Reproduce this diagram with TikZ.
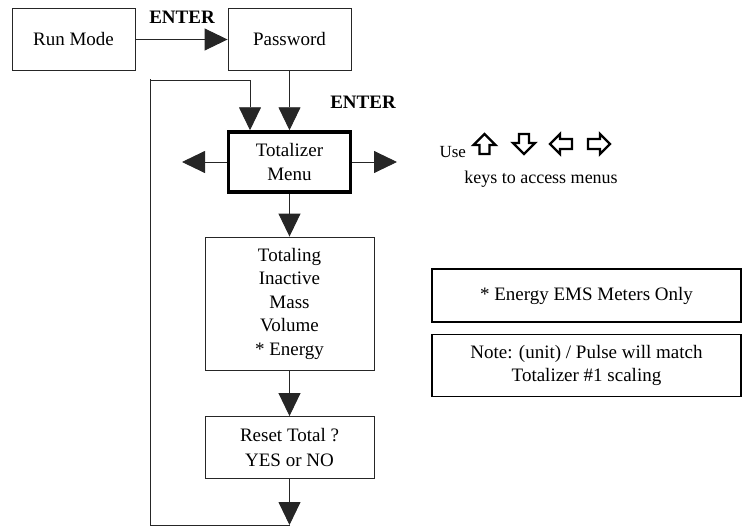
\documentclass[tikz,border=0pt]{standalone}
\usepackage{fontspec}
\setmainfont{Liberation Serif}
\usetikzlibrary{arrows.meta}
\begin{document}
\begin{tikzpicture}[x=1pt,y=-1pt,
  every node/.style={font=\fontsize{19}{23.5}\selectfont},
  box/.style={draw=black!85, line width=0.9pt, rectangle, align=center, inner sep=0pt},
  thickbox/.style={draw=black, line width=3.5pt, rectangle, align=center, inner sep=0pt},
  notebox/.style={draw=black, line width=1.8pt, rectangle, align=center, inner sep=0pt},
  conn/.style={draw=black!85, line width=0.9pt},
  arr/.style={conn, -{Triangle[length=23pt,width=22pt]}},
  lbl/.style={font=\fontsize{19}{23.5}\selectfont\bfseries},
  keyarrow/.style={draw=black, line width=2.4pt, miter limit=10}
]
\useasboundingbox (0,0) rectangle (744,527);

\node[box, minimum width=123pt, minimum height=62pt] (run) at (73.5,39.5) {Run Mode};
\node[box, minimum width=123pt, minimum height=62pt] (pass) at (289.5,39.5) {Password};
\node[thickbox, minimum width=122pt, minimum height=60pt] (tot) at (289.5,162) {Totalizer\\Menu};
\node[box, minimum width=169pt, minimum height=133pt] (totaling) at (289.5,303.5) {Totaling\\Inactive\\Mass\\Volume\\* Energy};
\node[box, minimum width=169pt, minimum height=62pt] (reset) at (289.5,447.5) {Reset Total ?\\[1.5pt]YES or NO};
\node[notebox, minimum width=309pt, minimum height=53pt] (energy) at (586.5,295.5) {* Energy EMS Meters Only};
\node[notebox, minimum width=309pt, minimum height=62pt] (note) at (586.5,365.5) {Note: (unit) / Pulse will match\\Totalizer \#1 scaling};

\node[lbl] (enter1) at (182,17) {ENTER};
\node[lbl] (enter2) at (363,102) {ENTER};

\coordinate (la) at (182,162);
\coordinate (ra) at (397,162);
\coordinate (lb) at (289.5,525);
\coordinate (lbl) at (150,525);
\coordinate (ltl) at (150,79);
\coordinate (ltr) at (250,80);
\coordinate (bend) at (150,80);

\draw[arr] (run) -- (pass);
\draw[arr] (pass) -- (tot);
\draw[arr] (tot) -- (totaling);
\draw[arr] (totaling) -- (reset);
\draw[arr] (reset) -- (lb);
\draw[arr] (tot) -- (la);
\draw[arr] (tot) -- (ra);
\draw[conn] (lb) -- (lbl) -- (ltl);
\draw[arr] (bend) -- (ltr) -- (ltr |- tot.north);

% key hint
\node[anchor=base west] (use) at (436,157) {\fontsize{17}{20}\selectfont Use};
\node[anchor=base] (keys) at (541,183) {\fontsize{18}{20}\selectfont keys to access menus};

\begin{scope}[shift={(484.5,144)}]
  \draw[keyarrow] (0,-10) -- (11,1) -- (5,1) -- (5,10) -- (-5,10) -- (-5,1) -- (-11,1) -- cycle;
\end{scope}
\begin{scope}[shift={(524,144)}]
  \draw[keyarrow] (0,10) -- (11,-1) -- (5,-1) -- (5,-10) -- (-5,-10) -- (-5,-1) -- (-11,-1) -- cycle;
\end{scope}
\begin{scope}[shift={(561,144)}]
  \draw[keyarrow] (-11,0) -- (-1,-10) -- (-1,-5) -- (11,-5) -- (11,5) -- (-1,5) -- (-1,10) -- cycle;
\end{scope}
\begin{scope}[shift={(599,144)}]
  \draw[keyarrow] (11,0) -- (1,-10) -- (1,-5) -- (-11,-5) -- (-11,5) -- (1,5) -- (1,10) -- cycle;
\end{scope}
\end{tikzpicture}
\end{document}
